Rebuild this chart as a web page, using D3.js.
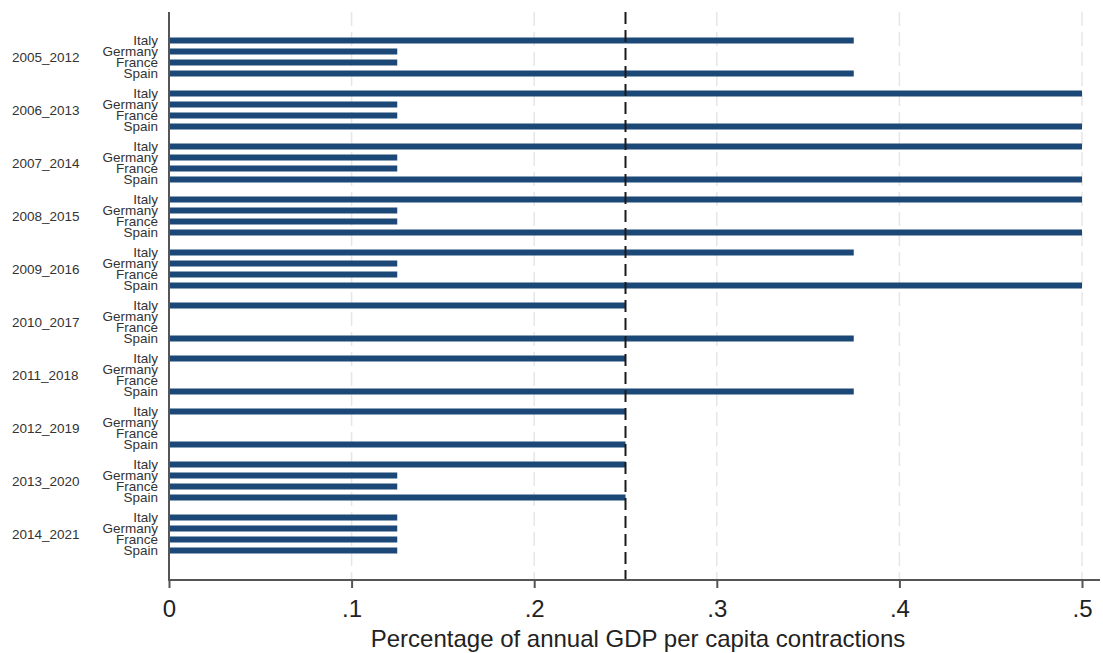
<!DOCTYPE html>
<html>
<head>
<meta charset="utf-8">
<script src="https://cdn.jsdelivr.net/npm/d3@7/dist/d3.min.js"></script>
<style>
  html, body { margin: 0; padding: 0; background: #fff; }
  svg { display: block; }
  text { font-family: "Liberation Sans", Arial, sans-serif; }
</style>
</head>
<body>
<script>
const periods = ["2005_2012","2006_2013","2007_2014","2008_2015","2009_2016","2010_2017","2011_2018","2012_2019","2013_2020","2014_2021"];
const countries = ["Italy","Germany","France","Spain"];
const italy   = [0.375, 0.5, 0.5, 0.5, 0.375, 0.25, 0.25, 0.25, 0.25, 0.125];
const germany = [0.125, 0.125, 0.125, 0.125, 0.125, 0, 0, 0, 0.125, 0.125];
const france  = [0.125, 0.125, 0.125, 0.125, 0.125, 0, 0, 0, 0.125, 0.125];
const spain   = [0.375, 0.5, 0.5, 0.5, 0.5, 0.375, 0.375, 0.25, 0.25, 0.125];
const xTicks = [0, 0.1, 0.2, 0.3, 0.4, 0.5];
const xTickLabels = ["0", ".1", ".2", ".3", ".4", ".5"];
const refValue = 0.25;
const xTitle = "Percentage of annual GDP per capita contractions";

const seriesByCountry = { Italy: italy, Germany: germany, France: france, Spain: spain };
const rows = [];
periods.forEach((p, i) => countries.forEach(c => rows.push({ period: p, country: c, value: seriesByCountry[c][i] })));

const W = 1103, H = 653;
const svg = d3.select("body").append("svg").attr("width", W).attr("height", H);

const x = d3.scaleLinear().domain([0, 0.5]).range([169, 1082]);
const yGroup = d3.scaleBand().domain(periods).range([30.5, 560.5]).padding(0);
const yInner = d3.scaleBand().domain(countries).range([4.5, 48.5]).padding(0);
const barH = 6;
const plotTop = 12, plotBottom = 580;

// gridlines
svg.append("g").selectAll("line").data(xTicks.slice(1)).join("line")
  .attr("x1", d => x(d)).attr("x2", d => x(d))
  .attr("y1", plotTop).attr("y2", plotBottom)
  .attr("stroke", "#e6e6e6").attr("stroke-width", 1.5)
  .attr("stroke-dasharray", "14 6");

// bars
svg.append("g").selectAll("rect").data(rows.filter(r => r.value > 0)).join("rect")
  .attr("x", x(0))
  .attr("y", d => yGroup(d.period) + yInner(d.country) + yInner.bandwidth() / 2 - barH / 2)
  .attr("width", d => x(d.value) - x(0))
  .attr("height", barH)
  .attr("fill", "#1b4877");

// reference line
svg.append("line")
  .attr("x1", x(refValue)).attr("x2", x(refValue))
  .attr("y1", plotTop).attr("y2", plotBottom)
  .attr("stroke", "#1a1a1a").attr("stroke-width", 2)
  .attr("stroke-dasharray", "12 6");

// country labels
svg.append("g").selectAll("text").data(rows).join("text")
  .attr("x", 158)
  .attr("y", d => yGroup(d.period) + yInner(d.country) + yInner.bandwidth() / 2)
  .attr("dy", "0.36em")
  .attr("text-anchor", "end")
  .attr("font-size", 13.5)
  .attr("fill", "#333")
  .text(d => d.country);

// group labels
svg.append("g").selectAll("text").data(periods).join("text")
  .attr("x", 12)
  .attr("y", d => yGroup(d) + yGroup.bandwidth() / 2)
  .attr("dy", "0.36em")
  .attr("font-size", 13.5)
  .attr("fill", "#333")
  .text(d => d);

// y axis line
svg.append("line")
  .attr("x1", x(0)).attr("x2", x(0))
  .attr("y1", plotTop).attr("y2", plotBottom)
  .attr("stroke", "#555").attr("stroke-width", 2);

// x axis
const xAxis = d3.axisBottom(x).tickValues(xTicks)
  .tickFormat((d, i) => xTickLabels[i]).tickSize(8).tickPadding(12).tickSizeOuter(0);
const gx = svg.append("g").attr("transform", `translate(0,${plotBottom})`).call(xAxis);
gx.select(".domain").remove();
gx.append("line").attr("x1", x(0) - 1).attr("x2", 1100).attr("y1", 0).attr("y2", 0)
  .attr("stroke", "#555").attr("stroke-width", 2);
gx.selectAll(".tick line").attr("stroke", "#555").attr("stroke-width", 2);
gx.selectAll(".tick text")
  .attr("font-family", "'Liberation Sans', Arial, sans-serif")
  .attr("font-size", 24).attr("fill", "#222");

svg.append("text")
  .attr("x", 638).attr("y", 647)
  .attr("text-anchor", "middle")
  .attr("font-size", 24)
  .attr("fill", "#222")
  .text(xTitle);
</script>
</body>
</html>
